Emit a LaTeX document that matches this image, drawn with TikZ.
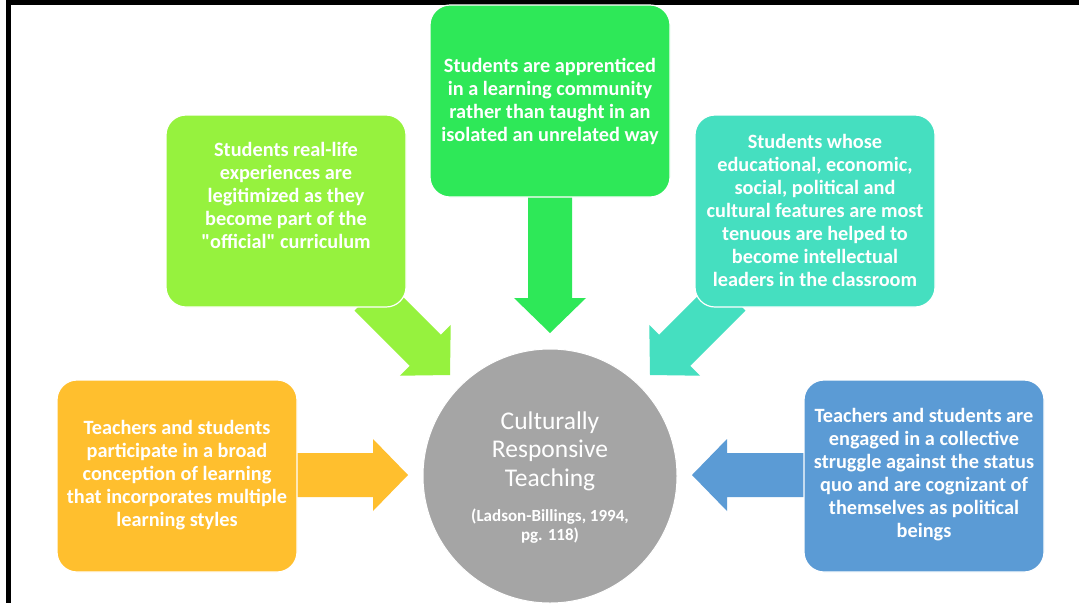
\documentclass[tikz,border=0pt]{standalone}
\usepackage{fontspec}
\setmainfont{Carlito}[Ligatures=TeXOff]
\definecolor{cgreen}{RGB}{46,232,88}
\definecolor{clime}{RGB}{150,242,62}
\definecolor{cteal}{RGB}{69,223,192}
\definecolor{corange}{RGB}{255,191,46}
\definecolor{cblue}{RGB}{91,155,213}
\definecolor{cgray}{RGB}{165,165,165}
\tikzset{
  box/.style={fill=#1, draw=white, line width=1.2pt, rounded corners=20pt},
  boxtext/.style={text=white, align=center, font=\fontsize{20.3}{23}\selectfont\bfseries, inner sep=0pt},
}
\newcommand{\blockarrow}[4]{% tip coord, angle, length, colour
  \begin{scope}[shift={(#1)}, rotate=#2]
    \fill[#4] (0,0) -- (-35,36) -- (-35,22) -- (-#3,22) -- (-#3,-22) -- (-35,-22) -- (-35,-36) -- cycle;
  \end{scope}}
\begin{document}
\begin{tikzpicture}[x=1pt, y=-1pt]
  \useasboundingbox (0,0) rectangle (1079,603);
  \fill[white] (0,0) rectangle (1079,603);
  % frame lines
  \fill[black] (6,0) rectangle (1079,4.5);
  \fill[black] (6,0) rectangle (11,603);
  % arrow tips
  \coordinate (tipT) at (550,333);
  \coordinate (tipL) at (450,375);
  \coordinate (tipR) at (650,375);
  \coordinate (tipO) at (408,475);
  \coordinate (tipB) at (692,475);
  \blockarrow{tipT}{-90}{143}{cgreen}
  \blockarrow{tipL}{-45}{113}{clime}
  \blockarrow{tipR}{-135}{113}{cteal}
  \blockarrow{tipO}{0}{115}{corange}
  \blockarrow{tipB}{180}{116}{cblue}
  % boxes
  \draw[box=cgreen] (430,5) rectangle (670,197);
  \draw[box=clime] (166,115) rectangle (406,307);
  \draw[box=cteal] (695,115) rectangle (935,307);
  \draw[box=corange] (57,380) rectangle (297,572);
  \draw[box=cblue] (804,380) rectangle (1044,572);
  % texts
  \node[boxtext] (tT) at (550,101) {Students are apprenticed\\in a learning community\\rather than taught in an\\isolated an unrelated way};
  \node[boxtext] (tL) at (286,195) {Students real-life\\experiences are\\legitimized as they\\become part of the\\"official" curriculum};
  \node[boxtext] (tR) at (815,210) {Students whose\\educational, economic,\\social, political and\\cultural features are most\\tenuous are helped to\\become intellectual\\leaders in the classroom};
  \node[boxtext] (tO) at (177,475) {Teachers and students\\participate in a broad\\conception of learning\\that incorporates multiple\\learning styles};
  \node[boxtext] (tB) at (924,475) {Teachers and students are\\engaged in a collective\\struggle against the status\\quo and are cognizant of\\themselves as political\\beings};
  % circle
  \node[circle, fill=cgray, draw=white, line width=1pt, minimum size=254pt, inner sep=0pt] (crt) at (550,476) {};
  \node[text=white, align=center, inner sep=0pt, font=\fontsize{25.5}{28.5}\selectfont] (ctitle) at (550,451) {Culturally\\Responsive\\Teaching};
  \node[text=white, align=center, inner sep=0pt, font=\fontsize{17}{18.5}\selectfont\bfseries] (ccite) at (550,526) {(Ladson-Billings, 1994,\\pg. 118)};
\end{tikzpicture}
\end{document}
